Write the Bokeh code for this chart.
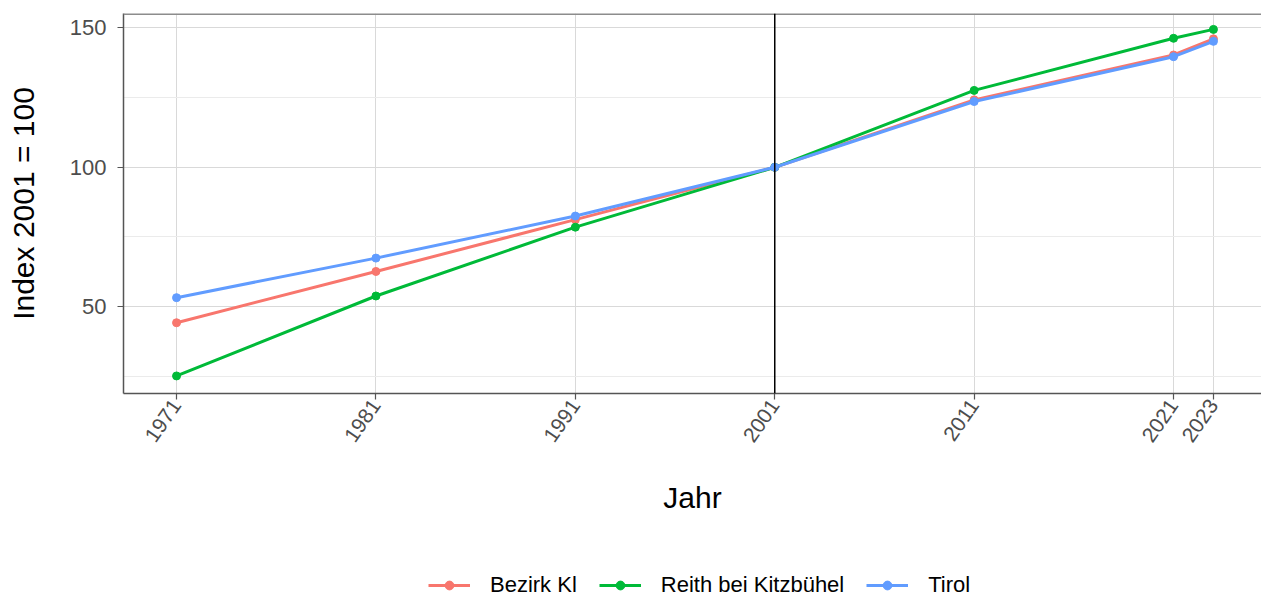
import math
from bokeh.plotting import figure
from bokeh.layouts import column
from bokeh.models import (Range1d, FixedTicker, Span, Legend, LegendItem,
                          ColumnDataSource)
from bokeh.embed import file_html
from bokeh.resources import INLINE

years = [1971, 1981, 1991, 2001, 2011, 2021, 2023]
bezirk_kl = [44.2, 62.6, 81.2, 100.0, 124.2, 140.3, 146.1]
reith = [25.1, 53.8, 78.5, 100.0, 127.6, 146.3, 149.5]
tirol = [53.2, 67.4, 82.5, 100.0, 123.6, 139.7, 145.2]

series = [
    ("Bezirk Kl", bezirk_kl, "#F8766D"),
    ("Reith bei Kitzbühel", reith, "#00BA38"),
    ("Tirol", tirol, "#619CFF"),
]
y_ticks = [50, 100, 150]
y_minor = [25, 75, 125]

FONT = "Liberation Sans"

p = figure(width=1261, height=540, output_backend="svg", toolbar_location=None,
           x_range=Range1d(1968.34, 2025.41), y_range=Range1d(18.8, 155.2),
           min_border_left=123, min_border_right=0, min_border_top=13,
           min_border_bottom=147)

p.background_fill_color = "white"
p.border_fill_color = "white"
p.outline_line_color = None

# grids
p.xgrid.ticker = FixedTicker(ticks=years)
p.ygrid.ticker = FixedTicker(ticks=y_ticks, minor_ticks=y_minor)
p.xgrid.grid_line_color = "#d9d9d9"
p.ygrid.grid_line_color = "#d9d9d9"
p.ygrid.minor_grid_line_color = "#ebebeb"
p.xgrid.grid_line_width = 1
p.ygrid.grid_line_width = 1

# axes
p.xaxis.ticker = FixedTicker(ticks=years)
p.yaxis.ticker = FixedTicker(ticks=y_ticks, minor_ticks=[])
for ax in (p.xaxis[0], p.yaxis[0]):
    ax.axis_line_color = "#555555"
    ax.axis_line_width = 1.5
    ax.major_tick_line_color = "#555555"
    ax.major_tick_line_width = 1.2
    ax.major_tick_in = 0
    ax.major_tick_out = 6
    ax.minor_tick_line_color = None
    ax.major_label_text_font = FONT
    ax.major_label_text_color = "#4d4d4d"
    ax.axis_label_text_font = FONT
    ax.axis_label_text_font_size = "30px"
    ax.axis_label_text_font_style = "normal"
    ax.axis_label_text_color = "black"

p.xaxis.major_label_text_font_size = "21px"
p.yaxis.major_label_text_font_size = "22px"
p.xaxis.axis_label = "Jahr"
p.yaxis.axis_label = "Index 2001 = 100"
p.xaxis.major_label_orientation = math.radians(55)
p.xaxis.major_label_standoff = 2
p.xaxis.axis_label_standoff = 30
p.yaxis.major_label_standoff = 11
p.yaxis.axis_label_standoff = 27

# top border of the panel (right side runs off the picture)
p.add_layout(Span(location=155.2, dimension="width", line_color="#8c8c8c",
                  line_width=3))

# vertical reference line at 2001
p.add_layout(Span(location=2001, dimension="height", line_color="black",
                  line_width=1.5))

for name, vals, col in series:
    src = ColumnDataSource(dict(x=years, y=vals))
    p.line("x", "y", source=src, line_color=col, line_width=3)
    p.scatter("x", "y", source=src, size=8, fill_color=col, line_color=col)

# legend in its own strip below (glyph renderers sit outside the visible range)
lg = figure(width=1261, height=58, output_backend="svg", toolbar_location=None,
            x_range=Range1d(0, 1), y_range=Range1d(0, 1),
            min_border_left=0, min_border_right=0, min_border_top=0,
            min_border_bottom=0, x_axis_type=None, y_axis_type=None)
lg.outline_line_color = None
lg.xgrid.visible = False
lg.ygrid.visible = False

items = []
for name, vals, col in series:
    off = ColumnDataSource(dict(x=[5, 6], y=[5, 6]))
    ln = lg.line("x", "y", source=off, line_color=col, line_width=3)
    sc = lg.scatter("x", "y", source=off, size=6, fill_color=col,
                    line_color=col)
    items.append(LegendItem(label=name, renderers=[ln, sc]))

legend = Legend(items=items, orientation="horizontal", location=(305, 0))
legend.label_text_font = FONT
legend.label_text_font_size = "22px"
legend.label_text_color = "black"
legend.glyph_width = 42
legend.glyph_height = 22
legend.label_height = 22
legend.label_standoff = 20
legend.spacing = 22
legend.padding = 2
legend.margin = 0
legend.border_line_color = None
legend.background_fill_alpha = 0
lg.add_layout(legend, "center")

layout = column(p, lg, spacing=0)
open("out.html", "w").write(file_html(layout, INLINE))
